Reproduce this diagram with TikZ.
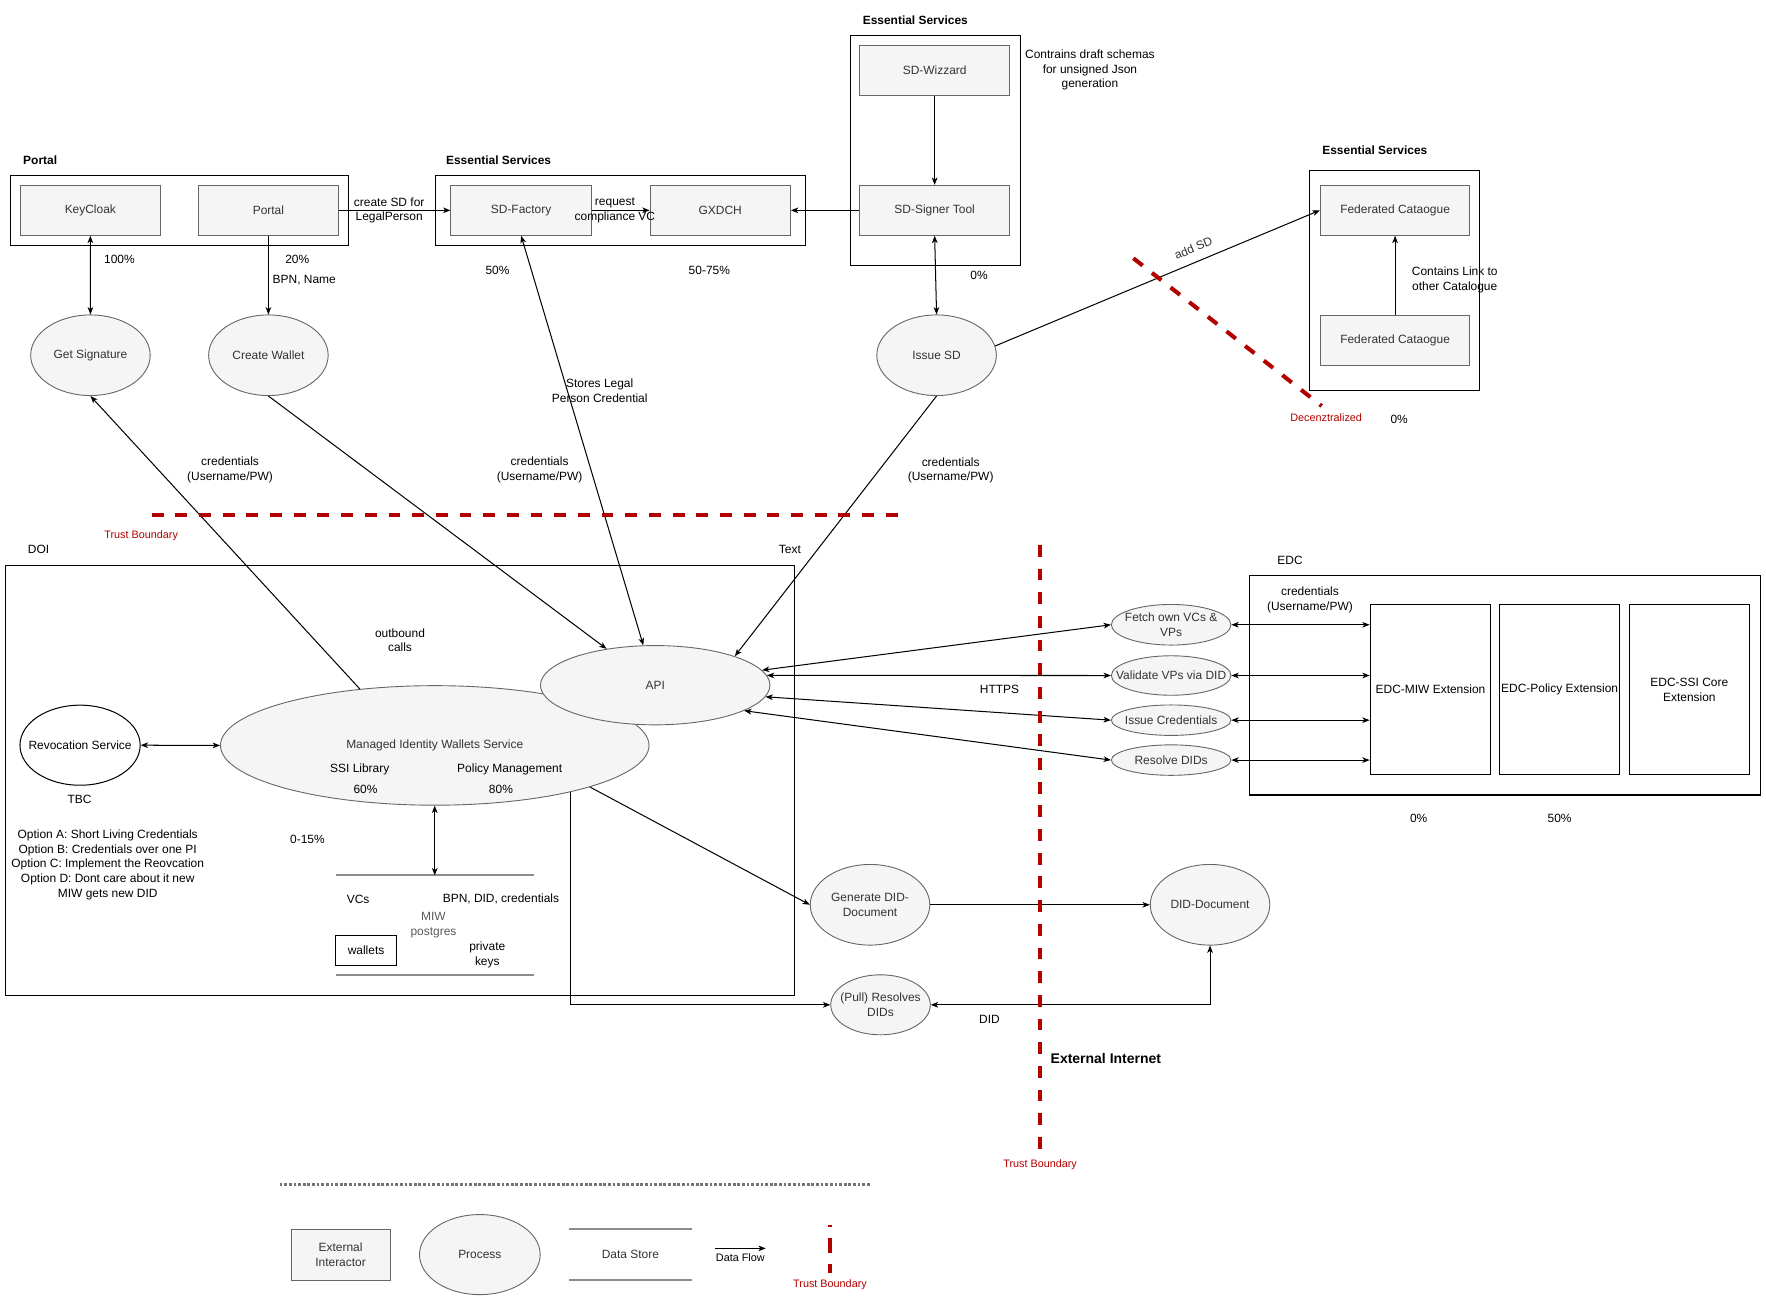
\documentclass[tikz,border=0pt]{standalone}
\usepackage{fontspec}
\setmainfont{Liberation Sans}
\usetikzlibrary{arrows.meta,shapes.geometric}
\definecolor{boxfill}{HTML}{F5F5F5}
\definecolor{boxline}{HTML}{666666}
\definecolor{boxtext}{HTML}{333333}
\definecolor{trustred}{HTML}{B20000}

\begin{document}
\begin{tikzpicture}[x=1pt,y=-1pt,
	every node/.style={font=\fontsize{10.6}{13}\selectfont,inner sep=0pt,align=center},
	>={Stealth[length=6.5pt,width=5pt,inset=1.8pt]},
	flow/.style={line width=.9pt},
	grp/.style={draw,line width=1pt},
	ext/.style={draw=boxline,fill=boxfill,text=boxtext,line width=.8pt,minimum width=124.5pt,minimum height=44.3pt},
	proc/.style={ellipse,draw=boxline,fill=boxfill,line width=.8pt,minimum width=106pt,minimum height=71.5pt,label={[text=boxtext]center:#1}},
	rev/.style={ellipse,draw,line width=.9pt,minimum width=106.6pt,minimum height=71pt,label={center:#1}},
	plain/.style={draw,fill=white,line width=.9pt},
	head/.style={font=\fontsize{10.6}{13}\selectfont\bfseries,anchor=west},
	trust/.style={draw=trustred,line width=3.6pt,dash pattern=on 10.5pt off 10.5pt},
	tlbl/.style={text=trustred,font=\fontsize{9.6}{11}\selectfont},
	storeline/.style={draw=black!45,line width=2pt}]
	\useasboundingbox (0,0) rectangle (1566,1154.5);
	\path
	(134.5,456.6) coordinate (tbha)
	(800,456.6) coordinate (tbhb)
	(922.2,483.2) coordinate (tbva)
	(922.2,1022.5) coordinate (tbvb)
	(1005,229) coordinate (tbda)
	(1172,360) coordinate (tbdb)
	(248,1050.5) coordinate (sepa)
	(772,1050.5) coordinate (sepb)
	(634,1107) coordinate (lgflowa)
	(679,1107) coordinate (lgflowb)
	(736,1086) coordinate (lgtba)
	(736,1129) coordinate (lgtbb);
	% top row
	\node[head] (portalhd) at (20.4,141.8) {Portal};
	\node[grp,minimum width=299.8pt,minimum height=62.4pt] (portalgrp) at (159.1,186.6) {};
	\node[ext] (kc) at (80.1,186.5) {KeyCloak};
	\node[ext] (portal) at (238,186.5) {Portal};
	\node[head] (es1hd) at (395.4,141.8) {Essential Services};
	\node[grp,minimum width=327.7pt,minimum height=62.4pt] (es1grp) at (550.15,186.6) {};
	\node[ext] (sdf) at (462.1,186.5) {SD-Factory};
	\node[ext] (gx) at (638.7,186.5) {GXDCH};
	\node[head] (es2hd) at (764.9,17.7) {Essential Services};
	\node[grp,minimum width=150.8pt,minimum height=203.9pt] (es2grp) at (829.4,133.25) {};
	\node[ext,minimum width=133.2pt] (wiz) at (828.8,62.4) {SD-Wizzard};
	\node[ext,minimum width=133.2pt] (signer) at (828.8,186.5) {SD-Signer Tool};
	\node (wiznote) at (966.5,62.2) {Contrains draft schemas\\for unsigned Json\\generation};
	\node[head] (es3hd) at (1172.4,133) {Essential Services};
	\node[grp,minimum width=150.7pt,minimum height=195pt] (es3grp) at (1236.85,248.5) {};
	\node[ext,minimum width=132.7pt] (fc1) at (1237.1,186.5) {Federated Cataogue};
	\node[ext,minimum width=132.7pt] (fc2) at (1237.1,301.7) {Federated Cataogue};
	\node (linknote) at (1290,248.2) {Contains Link to\\other Catalogue};
	\node[proc=Get Signature] (gs) at (80.2,315) {};
	\node[proc=Create Wallet] (cw) at (238,315) {};
	\node[proc=Issue SD] (isd) at (830.5,315) {};
	\node (pct100) at (105.9,230.2) {100\%};
	\node (pct20) at (263.6,230.2) {20\%};
	\node (bpnname) at (269.8,248.2) {BPN, Name};
	\node (pct50) at (441.2,239.4) {50\%};
	\node (pct5075) at (629,239.4) {50-75\%};
	\node (pct0a) at (868.2,243.8) {0\%};
	\node (pct0b) at (1240.7,371.7) {0\%};
	\node[tlbl] (decen) at (1176,370) {Decenztralized};
	\node (cred1) at (204,416.7) {credentials\\(Username/PW)};
	\node (cred2) at (478.5,416.7) {credentials\\(Username/PW)};
	\node (cred3) at (843,417) {credentials\\(Username/PW)};
	\node (storeslbl) at (531.8,346.2) {Stores Legal\\Person Credential};
	\node[tlbl] (tb1lbl) at (125.2,474.7) {Trust Boundary};
	% DOI
	\node[anchor=west] (doihd) at (24.6,487.2) {DOI};
	\node (textlbl) at (700.4,487.6) {Text};
	\node[grp,minimum width=700.2pt,minimum height=381.2pt] (doigrp) at (354.7,691.8) {};
	\node[proc={Managed Identity Wallets Service},minimum width=380pt,minimum height=106pt] (miw) at (385.5,661) {};
	\node[proc=API,minimum width=203.5pt,minimum height=70.3pt] (api) at (581,607.6) {};
	\node (ssi) at (319,682.3) {SSI Library};
	\node (ssipct) at (324.1,699.7) {60\%};
	\node (pol) at (452,682.3) {Policy Management};
	\node (polpct) at (444.2,699.7) {80\%};
	\node (outb) at (354.7,567.7) {outbound\\calls};
	\node[rev=Revocation Service] (rev) at (71,660.8) {};
	\node (tbc) at (70.5,708.9) {TBC};
	\node (opts) at (95.5,766.8) {Option A: Short Living Credentials\\Option B: Credentials over one PI\\Option C: Implement the Reovcation\\Option D: Dont care about it new\\MIW gets new DID};
	\node (pct015) at (272.6,744.7) {0-15\%};
	\node[minimum width=175pt,minimum height=88pt] (store) at (385.5,820.4) {};
	\draw[storeline] (store.north west) -- (store.north east) (store.south west) -- (store.south east);
	\node (vcs) at (317.6,797.5) {VCs};
	\node (bpn) at (444.2,797.5) {BPN, DID, credentials};
	\node[text=black!65] (pg) at (384.4,820.2) {MIW\\postgres};
	\node[plain,minimum width=53.7pt,minimum height=26.8pt] (wallets) at (324.6,842.7) {wallets};
	\node (keys) at (432.1,847) {private\\keys};
	% DID documents
	\node[proc={Generate DID-\\Document}] (gen) at (771.5,802.3) {};
	\node[proc=DID-Document] (didd) at (1073,802.3) {};
	\node[proc={(Pull) Resolves\\DIDs},minimum width=88.3pt,minimum height=53.2pt] (pull) at (780.8,891) {};
	\node (https) at (886.3,611.7) {HTTPS};
	\node (didlbl) at (877.4,904.3) {DID};
	\node[font=\fontsize{12.4}{15}\selectfont\bfseries,anchor=west] (extnet) at (931.5,938.8) {External Internet};
	\node[tlbl] (tb2lbl) at (922.3,1032.8) {Trust Boundary};
	% EDC
	\node[anchor=west] (edchd) at (1132.6,496.5) {EDC};
	\node[grp,minimum width=453pt,minimum height=195pt] (edcgrp) at (1334.5,607.5) {};
	\node[plain,minimum width=107pt,minimum height=151pt] (emiw) at (1268.5,611.5) {EDC-MIW Extension};
	\node[plain,minimum width=106pt,minimum height=151pt] (epol) at (1383,611.5) {EDC-Policy Extension};
	\node[plain,minimum width=106pt,minimum height=151pt] (essi) at (1498,611.5) {EDC-SSI Core\\Extension};
	\node (edccred) at (1161.6,532) {credentials\\(Username/PW)};
	\node (pct0edc) at (1258,726) {0\%};
	\node (pct50edc) at (1383,726) {50\%};
	\foreach \nm/\yy/\hh/\ang/\txt in {fetch/554/36pt/8/{Fetch own VCs \&\\VPs},val/599/35pt/5/{Validate VPs via DID},iss/638.6/27pt/-6/{Issue Credentials},res/674/27pt/-16/{Resolve DIDs}}{
		\node[proc={\txt},minimum height=\hh] (\nm) at (1038.5,\yy) {};
		\draw[flow,<->] (api.\ang) -- (\nm.west);
		\draw[flow,<->] (\nm.east) -- (\nm.east -| emiw.west);
	}
	% connectors
	\draw[flow,<->] (kc.south) -- (gs.north);
	\draw[flow,->] (portal.south) -- (cw.north);
	\draw[flow,->] (portal.east) -- (sdf.west) node[pos=.45] (sdlbl) {create SD for\\LegalPerson};
	\draw[flow,->] (sdf.east) -- (gx.west) node[pos=.4] (reqlbl) {request\\compliance VC};
	\draw[flow,->] (signer.west) -- (gx.east);
	\draw[flow,->] (wiz.south) -- (signer.north);
	\draw[flow,<->] (signer.south) -- (isd.north);
	\draw[flow,->] (isd.9) -- (fc1.west) node[pos=.627,sloped,above=8pt,text=boxtext] (addsd) {add SD};
	\draw[flow,->] (fc2.north) -- (fc1.south);
	\draw[flow,->] (miw.143) -- (gs.south);
	\draw[flow,->] (cw.south) -- (api);
	\draw[flow,<->] (sdf.south) -- (api);
	\draw[flow,->] (isd.south) -- (api.20);
	\draw[flow,<->] (rev.east) -- (miw.west);
	\draw[flow,<->] (miw.south) -- (store.north);
	\draw[flow,->] (miw.-15.6) -- (gen.west);
	\draw[flow,->] (miw.-19) |- (pull.west);
	\draw[flow,<->] (pull.east) -| (didd.south);
	\draw[flow,->] (gen.east) -- (didd.west);
	\draw[trust] (tbha) -- (tbhb);
	\draw[trust] (tbva) -- (tbvb);
	\draw[trust] (tbda) -- (tbdb);
	% legend
	\draw[draw=black!55,line width=2.5pt,dash pattern=on 2.5pt off 1.6pt] (sepa) -- (sepb);
	\node[ext,minimum width=88pt,minimum height=45pt] (lgext) at (302,1112.5) {External\\Interactor};
	\node[proc=Process,minimum width=107pt,minimum height=71pt] (lgproc) at (425.5,1112.5) {};
	\node[minimum width=108pt,minimum height=45pt,text=boxtext] (lgstore) at (559,1112.5) {Data Store};
	\draw[storeline] (lgstore.north west) -- (lgstore.north east) (lgstore.south west) -- (lgstore.south east);
	\draw[flow,->] (lgflowa) -- (lgflowb) node[midway,below=4.5pt,font=\fontsize{9.6}{11}\selectfont] (lgflowlbl) {Data Flow};
	\draw[trust,dash pattern=on 13pt off 10pt,dash phase=11pt] (lgtba) -- (lgtbb);
	\node[tlbl] (lgtblbl) at (736,1139) {Trust Boundary};
\end{tikzpicture}
\end{document}
